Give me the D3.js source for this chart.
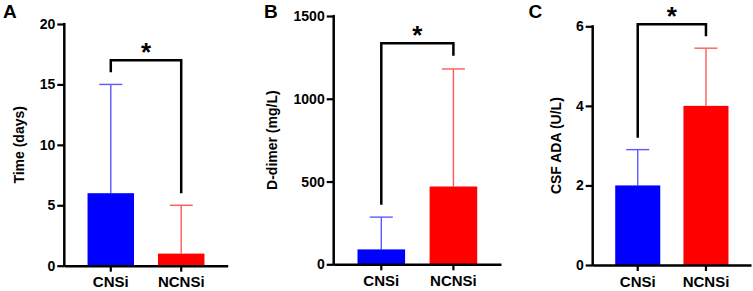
<!DOCTYPE html>
<html>
<head>
<meta charset="utf-8">
<script src="https://cdn.jsdelivr.net/npm/d3@7"></script>
<style>
  body { margin: 0; background: #fff; }
  svg { display: block; }
  text { font-family: "Liberation Sans", Arial, sans-serif; font-weight: bold; }
</style>
</head>
<body>
<div id="chart"></div>
<script>
/***** Data *****/
var groups = ["CNSi", "NCNSi"];

// A - time
var timeMean = [6, 1];
var timeSD = [9, 4];
var timeTicks = [0, 5, 10, 15, 20];

// B - D-dimer
var ddimerMean = [90, 470];
var ddimerSD = [195, 710];
var ddimerTicks = [0, 500, 1000, 1500];

// C - CSF ADA
var adaMean = [2, 4];
var adaSD = [0.9, 1.45];
var adaTicks = [0, 2, 4, 6];

// significance brackets : [top, left leg end, right leg end]
var sigA = [17, 16, 6];
var sigB = [1335, 360, 1260];
var sigC = [6.05, 3.2, 5.75];

var barColors = ["#0000ff", "#ff0000"];
var errColors = ["#5a5aff", "#ff5a5a"];

/***** Layout *****/
const W = 753, H = 291;
const svg = d3.select("#chart").append("svg")
  .attr("width", W)
  .attr("height", H);

var panels = [
  {letter: "A", lx: 3, title: "Time (days)", titleOff: 40,
   mean: timeMean, sd: timeSD, ticks: timeTicks, sig: sigA,
   x: [64.3, 227.7], y: [265.7, 24]},
  {letter: "B", lx: 264, title: "D-dimer (mg/L)", titleOff: 57,
   mean: ddimerMean, sd: ddimerSD, ticks: ddimerTicks, sig: sigB,
   x: [333.7, 501], y: [264.3, 16]},
  {letter: "C", lx: 528.5, title: "CSF ADA (U/L)", titleOff: 32,
   mean: adaMean, sd: adaSD, ticks: adaTicks, sig: sigC,
   x: [592.7, 751], y: [265, 26.3]}
];

panels.forEach(function(p) {
  var g = svg.append("g");

  var x = d3.scaleBand().domain(groups).range(p.x)
    .paddingInner(0.34).paddingOuter(0.33);
  var y = d3.scaleLinear()
    .domain([0, d3.max(p.ticks)])
    .range(p.y);

  var rows = groups.map(function(d, i) {
    return {name: d, mean: p.mean[i], sd: p.sd[i], i: i};
  });

  // error bars (upper only)
  var eb = g.selectAll(".err").data(rows).enter().append("g");
  eb.append("line")
    .attr("x1", d => x(d.name) + x.bandwidth() / 2)
    .attr("x2", d => x(d.name) + x.bandwidth() / 2)
    .attr("y1", d => y(d.mean))
    .attr("y2", d => y(d.mean + d.sd))
    .attr("stroke", d => errColors[d.i])
    .attr("stroke-width", 1.4);
  eb.append("line")
    .attr("x1", d => x(d.name) + x.bandwidth() / 2 - 11.5)
    .attr("x2", d => x(d.name) + x.bandwidth() / 2 + 11.5)
    .attr("y1", d => y(d.mean + d.sd))
    .attr("y2", d => y(d.mean + d.sd))
    .attr("stroke", d => errColors[d.i])
    .attr("stroke-width", 1.4);

  // bars
  g.selectAll(".bar").data(rows).enter().append("rect")
    .attr("x", d => x(d.name))
    .attr("width", x.bandwidth())
    .attr("y", d => y(d.mean))
    .attr("height", d => y(0) - y(d.mean))
    .attr("fill", d => barColors[d.i]);

  // axes
  var yAxis = d3.axisLeft(y).tickValues(p.ticks).tickFormat(d3.format("d"))
    .tickSize(7).tickSizeOuter(0).tickPadding(2);
  var gy = g.append("g")
    .attr("transform", "translate(" + p.x[0] + ",0)")
    .call(yAxis);
  var xAxis = d3.axisBottom(x).tickSize(6).tickSizeOuter(0).tickPadding(5);
  var gx = g.append("g")
    .attr("transform", "translate(0," + p.y[0] + ")")
    .call(xAxis);

  [gy, gx].forEach(function(a) {
    a.select(".domain").attr("stroke", "#000").attr("stroke-width", 2.5);
    a.selectAll(".tick line").attr("stroke", "#000").attr("stroke-width", 2.2);
  });
  gy.selectAll(".tick text").attr("font-size", 14).attr("fill", "#000");
  gx.selectAll(".tick text").attr("font-size", 15).attr("fill", "#000");
  // extend y domain line down to meet x axis corner
  gy.select(".domain").attr("d", "M0," + (p.y[1] - 1.1) + "V" + (p.y[0] + 1.2));

  // axis title
  g.append("text")
    .attr("transform", "translate(" + (p.x[0] - p.titleOff) + "," + ((p.y[0] + p.y[1]) / 2) + ") rotate(-90)")
    .attr("text-anchor", "middle")
    .attr("font-size", 14)
    .text(p.title);

  // panel letter
  g.append("text")
    .attr("x", p.lx)
    .attr("y", 18.3)
    .attr("font-size", 19)
    .text(p.letter);

  // significance bracket
  var cx0 = x(groups[0]) + x.bandwidth() / 2;
  var cx1 = x(groups[1]) + x.bandwidth() / 2;
  var line = d3.line();
  g.append("path")
    .attr("d", line([[cx0, y(p.sig[1])], [cx0, y(p.sig[0])], [cx1, y(p.sig[0])], [cx1, y(p.sig[2])]]))
    .attr("fill", "none")
    .attr("stroke", "#000")
    .attr("stroke-width", 2.5);
  g.append("text")
    .attr("x", (cx0 + cx1) / 2)
    .attr("y", y(p.sig[0]) + 1)
    .attr("text-anchor", "middle")
    .attr("font-size", 26)
    .text("*");
});
</script>
</body>
</html>
